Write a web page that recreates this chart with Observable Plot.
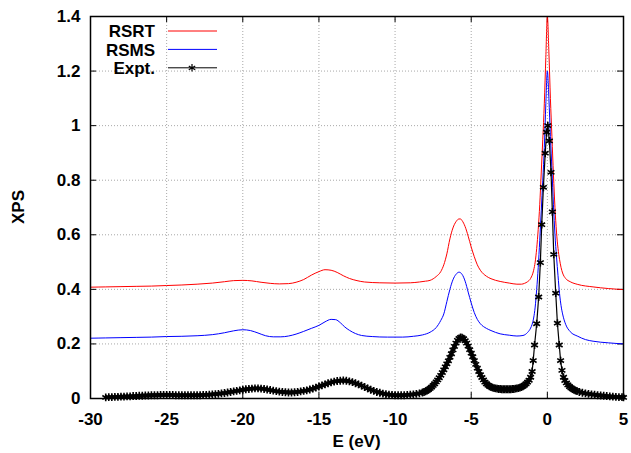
<!DOCTYPE html>
<html><head><meta charset="utf-8">
<script src="https://cdn.jsdelivr.net/npm/d3@7"></script>
<script src="https://cdn.jsdelivr.net/npm/@observablehq/plot@0.6"></script>
<style>body{margin:0;background:#fff}#chart{width:631px;height:453px}</style>
</head><body><div id="chart"></div>
<script>
const xTicks = [-30, -25, -20, -15, -10, -5, 0, 5];
const yTicks = [0, 0.2, 0.4, 0.6, 0.8, 1, 1.2, 1.4];
const seriesNames = ["RSRT", "RSMS", "Expt."];
const seriesColors = ["#ff0000", "#0000ff", "#000000"];
const xLabel = "E (eV)";
const yLabel = "XPS";

const rsrt = [[-30,0.408],[-29,0.409],[-28,0.410],[-27,0.411],[-26,0.412],[-25,0.414],[-24,0.416],[-23,0.419],[-22,0.423],[-21.2,0.428],[-20.6,0.432],[-20,0.433],[-19.4,0.431],[-18.8,0.426],[-18.2,0.422],[-17.6,0.420],[-17,0.421],[-16.5,0.426],[-16,0.436],[-15.5,0.452],[-15,0.465],[-14.6,0.472],[-14.2,0.470],[-13.8,0.462],[-13.4,0.450],[-13,0.440],[-12.5,0.432],[-12,0.427],[-11,0.424],[-10,0.423],[-9,0.424],[-8.4,0.427],[-8,0.430],[-7.7,0.433],[-7.3,0.447],[-7.0,0.465],[-6.8,0.49],[-6.6,0.53],[-6.4,0.585],[-6.2,0.625],[-6.0,0.648],[-5.8,0.658],[-5.7,0.658],[-5.6,0.652],[-5.4,0.63],[-5.2,0.595],[-5.0,0.555],[-4.8,0.52],[-4.6,0.49],[-4.4,0.47],[-4.0,0.448],[-3.7,0.439],[-3.1,0.429],[-2.5,0.423],[-2.0,0.419],[-1.7,0.419],[-1.5,0.422],[-1.3,0.428],[-1.1,0.44],[-0.9,0.47],[-0.8,0.50],[-0.7,0.55],[-0.6,0.62],[-0.5,0.71],[-0.4,0.83],[-0.3,0.95],[-0.2,1.08],[-0.1,1.25],[0,1.40],[0.1,1.27],[0.2,1.10],[0.3,0.96],[0.4,0.82],[0.5,0.70],[0.6,0.61],[0.7,0.55],[0.8,0.51],[0.9,0.48],[1.0,0.46],[1.2,0.44],[1.5,0.428],[2.0,0.418],[3.0,0.409],[4.0,0.403],[5.0,0.399]];

const rsms = [[-30,0.221],[-29,0.222],[-28,0.223],[-27,0.224],[-26,0.225],[-25,0.227],[-24,0.228],[-23,0.230],[-22,0.234],[-21.2,0.241],[-20.6,0.248],[-20,0.252],[-19.5,0.249],[-19,0.240],[-18.5,0.230],[-18,0.226],[-17.5,0.226],[-17,0.229],[-16.5,0.236],[-16,0.246],[-15.5,0.257],[-15,0.268],[-14.6,0.281],[-14.2,0.290],[-13.9,0.289],[-13.6,0.278],[-13.3,0.262],[-13,0.250],[-12.6,0.238],[-12.2,0.231],[-11.5,0.227],[-10.5,0.225],[-9.5,0.225],[-8.8,0.228],[-8.2,0.233],[-7.7,0.243],[-7.3,0.26],[-7.0,0.286],[-6.8,0.31],[-6.6,0.355],[-6.4,0.40],[-6.2,0.435],[-6.0,0.455],[-5.8,0.463],[-5.6,0.455],[-5.4,0.43],[-5.2,0.39],[-5.0,0.35],[-4.8,0.315],[-4.6,0.29],[-4.4,0.274],[-4.0,0.257],[-3.7,0.249],[-3.1,0.237],[-2.5,0.232],[-2.0,0.229],[-1.6,0.231],[-1.3,0.242],[-1.1,0.258],[-1.0,0.272],[-0.9,0.295],[-0.8,0.335],[-0.7,0.40],[-0.6,0.48],[-0.5,0.58],[-0.4,0.69],[-0.3,0.80],[-0.2,0.92],[-0.1,1.08],[0,1.20],[0.1,1.10],[0.2,0.96],[0.3,0.84],[0.4,0.71],[0.5,0.60],[0.6,0.52],[0.7,0.45],[0.8,0.385],[0.9,0.34],[1.0,0.31],[1.2,0.272],[1.5,0.245],[2.0,0.228],[2.5,0.216],[3.0,0.21],[4.0,0.204],[5.0,0.200]];

const expt = [[-29.0,0.004],[-28.8,0.005],[-28.6,0.005],[-28.4,0.006],[-28.2,0.006],[-28.0,0.007],[-27.8,0.007],[-27.6,0.008],[-27.4,0.008],[-27.2,0.009],[-27.0,0.009],[-26.8,0.010],[-26.6,0.010],[-26.4,0.011],[-26.2,0.011],[-26.0,0.012],[-25.8,0.012],[-25.6,0.012],[-25.4,0.013],[-25.2,0.013],[-25.0,0.013],[-24.8,0.013],[-24.6,0.013],[-24.4,0.012],[-24.2,0.012],[-24.0,0.012],[-23.8,0.012],[-23.6,0.012],[-23.4,0.012],[-23.2,0.012],[-23.0,0.012],[-22.8,0.012],[-22.6,0.013],[-22.4,0.013],[-22.2,0.014],[-22.0,0.015],[-21.8,0.016],[-21.6,0.017],[-21.4,0.019],[-21.2,0.020],[-21.0,0.022],[-20.8,0.024],[-20.6,0.026],[-20.4,0.028],[-20.2,0.030],[-20.0,0.032],[-19.8,0.034],[-19.6,0.035],[-19.4,0.036],[-19.2,0.037],[-19.0,0.037],[-18.8,0.036],[-18.6,0.035],[-18.4,0.033],[-18.2,0.031],[-18.0,0.029],[-17.8,0.027],[-17.6,0.025],[-17.4,0.024],[-17.2,0.023],[-17.0,0.022],[-16.8,0.022],[-16.6,0.023],[-16.4,0.024],[-16.2,0.026],[-16.0,0.028],[-15.8,0.030],[-15.6,0.033],[-15.4,0.036],[-15.2,0.040],[-15.0,0.044],[-14.8,0.048],[-14.6,0.052],[-14.4,0.056],[-14.2,0.059],[-14.0,0.062],[-13.8,0.064],[-13.6,0.065],[-13.4,0.066],[-13.2,0.065],[-13.0,0.063],[-12.8,0.060],[-12.6,0.056],[-12.4,0.052],[-12.2,0.047],[-12.0,0.042],[-11.8,0.037],[-11.6,0.032],[-11.4,0.028],[-11.2,0.024],[-11.0,0.021],[-10.8,0.018],[-10.6,0.016],[-10.4,0.014],[-10.2,0.013],[-10.0,0.012],[-9.8,0.012],[-9.6,0.012],[-9.4,0.012],[-9.2,0.013],[-9.0,0.014],[-8.8,0.015],[-8.6,0.017],[-8.4,0.019],[-8.2,0.022],
[-8.1,0.024],[-8.0,0.026],[-7.9,0.029],[-7.8,0.033],[-7.7,0.037],[-7.6,0.042],[-7.5,0.048],[-7.4,0.054],[-7.3,0.061],[-7.2,0.068],[-7.1,0.076],[-7.0,0.085],[-6.9,0.095],[-6.8,0.105],[-6.7,0.116],[-6.6,0.127],[-6.5,0.138],[-6.4,0.151],[-6.3,0.164],[-6.2,0.178],[-6.1,0.191],[-6.0,0.203],[-5.9,0.213],[-5.8,0.220],[-5.7,0.224],[-5.6,0.223],[-5.5,0.219],[-5.4,0.212],[-5.3,0.203],[-5.2,0.192],[-5.1,0.179],[-5.0,0.166],[-4.9,0.153],[-4.8,0.139],[-4.7,0.125],[-4.6,0.111],[-4.5,0.099],[-4.4,0.087],[-4.3,0.077],[-4.2,0.068],[-4.1,0.060],[-4.0,0.054],[-3.9,0.049],[-3.8,0.045],[-3.7,0.042],[-3.6,0.040],[-3.5,0.038],[-3.4,0.037],[-3.3,0.036],[-3.2,0.035],[-3.1,0.035],[-3.0,0.034],[-2.9,0.034],[-2.8,0.034],[-2.7,0.034],[-2.6,0.034],[-2.5,0.034],[-2.4,0.034],[-2.3,0.035],[-2.2,0.035],[-2.1,0.036],[-2.0,0.037],[-1.9,0.038],[-1.8,0.040],[-1.7,0.042],[-1.6,0.045],[-1.5,0.049],[-1.4,0.054],[-1.3,0.060],[-1.2,0.067],[-1.1,0.078],
[-1.00,0.099],[-0.93,0.139],[-0.84,0.196],[-0.70,0.274],[-0.57,0.372],[-0.46,0.498],[-0.37,0.637],[-0.26,0.774],[-0.14,0.899],[-0.05,0.976],[0.03,1.0],[0.13,0.944],[0.24,0.829],[0.33,0.684],[0.42,0.528],[0.55,0.386],[0.66,0.276],[0.78,0.196],[0.87,0.139],[0.96,0.103],
[1.06,0.078],[1.15,0.066],[1.25,0.057],[1.35,0.050],[1.45,0.044],[1.55,0.039],[1.65,0.035],[1.75,0.032],[1.85,0.029],[1.95,0.027],[2.1,0.024],[2.3,0.021],[2.5,0.019],[2.7,0.017],[2.9,0.015],[3.1,0.014],[3.3,0.012],[3.5,0.011],[3.7,0.010],[3.9,0.009],[4.1,0.008],[4.3,0.007],[4.5,0.006],[4.7,0.005],[4.9,0.005],[5.0,0.004]];

const W = 631, H = 453, mL = 90, mR = 8, mT = 16, mB = 55;
const innerW = W - mL - mR, innerH = H - mT - mB;
const FONT = "'Liberation Sans', Arial, Helvetica, sans-serif";
const FS = 17;
const rows = (arr) => arr.map(([e, v]) => ({e, v}));
const tickStyle = {stroke: "#000", strokeOpacity: 1, strokeWidth: 1};
const gridStyle = {stroke: "#a8a8a8", strokeOpacity: 1, strokeWidth: 1, strokeDasharray: "1,2"};

const chart = Plot.plot({
  width: W, height: H,
  marginLeft: mL, marginRight: mR, marginTop: mT, marginBottom: mB,
  x: {domain: [-30, 5]},
  y: {domain: [0, 1.4]},
  style: {fontFamily: FONT, fontSize: FS + "px", fontWeight: "bold", background: "#fff", color: "#000", overflow: "visible"},
  marks: [
    Plot.gridX(xTicks.slice(1, -1), gridStyle),
    Plot.gridY(yTicks.slice(1, -1), gridStyle),
    Plot.gridX(xTicks, {...tickStyle, insetTop: innerH - 6}),
    Plot.gridX(xTicks, {...tickStyle, insetBottom: innerH - 6}),
    Plot.gridY(yTicks, {...tickStyle, insetRight: innerW - 6}),
    Plot.gridY(yTicks, {...tickStyle, insetLeft: innerW - 6}),
    Plot.axisX(xTicks, {tickSize: 0, tickPadding: 14, tickFormat: d => String(d), label: null, fontSize: FS}),
    Plot.axisY(yTicks, {tickSize: 0, tickPadding: 10, tickFormat: d => String(d), label: null, fontSize: FS}),
    Plot.line(rows(rsrt), {x: "e", y: "v", stroke: seriesColors[0], strokeWidth: 1, curve: "monotone-x"}),
    Plot.line(rows(rsms), {x: "e", y: "v", stroke: seriesColors[1], strokeWidth: 1, curve: "monotone-x"}),
    Plot.line(rows(expt), {x: "e", y: "v", stroke: seriesColors[2], strokeWidth: 1.2}),
    Plot.dot(rows(expt), {x: "e", y: "v", symbol: "asterisk", r: 3.7, stroke: seriesColors[2], strokeWidth: 1.6}),
    Plot.frame({stroke: "#000", strokeWidth: 1.5})
  ]
});
document.getElementById("chart").appendChild(chart);

// axis titles and legend (layout overlay)
const svg = d3.select(chart);
svg.append("text").attr("x", mL + innerW / 2).attr("y", H - 6)
  .attr("text-anchor", "middle").attr("font-family", FONT).attr("font-size", FS).attr("font-weight", "bold")
  .attr("fill", "#000").text(xLabel);
svg.append("text").attr("transform", `translate(${24},${mT + innerH / 2}) rotate(-90)`)
  .attr("text-anchor", "middle").attr("font-family", FONT).attr("font-size", FS).attr("font-weight", "bold")
  .attr("fill", "#000").text(yLabel);

const leg = svg.append("g");
seriesNames.forEach((name, i) => {
  const cy = mT + 15 + i * 18.4;
  leg.append("text").attr("x", mL + 65).attr("y", cy).attr("dy", "0.36em")
    .attr("text-anchor", "end").attr("font-family", FONT).attr("font-size", FS).attr("font-weight", "bold")
    .attr("fill", "#000").text(name);
  leg.append("line").attr("x1", mL + 78).attr("x2", mL + 127).attr("y1", cy).attr("y2", cy)
    .attr("stroke", seriesColors[i]).attr("stroke-width", 1);
  if (name === "Expt.") {
    leg.append("path").attr("d", d3.symbol(d3.symbolAsterisk, Math.PI * 3.5 * 3.5)())
      .attr("transform", `translate(${mL + 102},${cy})`).attr("fill", "none")
      .attr("stroke", "#000").attr("stroke-width", 1.2);
  }
});
</script>
</body></html>
